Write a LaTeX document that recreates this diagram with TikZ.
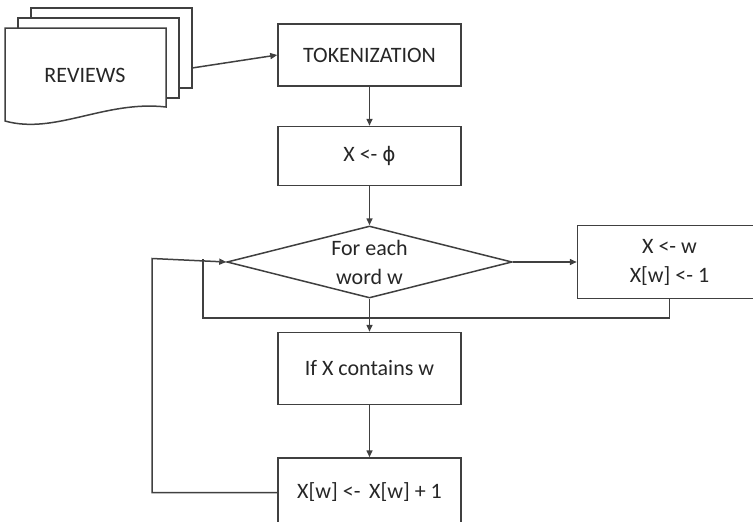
\documentclass[tikz,border=0pt]{standalone}
\usepackage{fontspec}
\setmainfont{Carlito}
\newfontfamily\phifont{DejaVu Sans}
\usepackage{tikz}
\usetikzlibrary{positioning, arrows.meta, shapes.geometric}

\begin{document}
\begin{tikzpicture}[
    x=1pt, y=-1pt,
    font=\fontsize{22}{29}\selectfont,
    line width=1.5pt,
    node distance=39pt,
    every node/.style={text=black!85},
    process/.style={
        rectangle, draw=black!75,
        minimum width=183pt, minimum height=61pt,
        align=center, inner sep=0pt
    },
    decision/.style={
        diamond, draw=black!75, aspect=3.96,
        minimum width=285pt, minimum height=72pt,
        align=center, inner sep=0pt
    },
    sheet/.style={draw=black!75, fill=white},
    arrow/.style={draw=black!75, -{Triangle[length=7pt, width=6pt]}},
    link/.style={draw=black!75},
]
\clip (0,0) rectangle (753,522);

% ---------- Reviews (stack of documents) ----------
\draw[sheet] (31,8) rectangle (192,88);
\draw[sheet] (18,18) rectangle (179,98);
\draw[sheet] (5,28) -- (166,28) -- (166,107)
    .. controls (105,100) and (55,135) .. (5,121) -- cycle;
\node (reviews) at (85,75) {REVIEWS};
\coordinate (docout) at (192,68);

% ---------- Tokenization ----------
\node[process, minimum height=62pt] (tok) at (369.5,55) {TOKENIZATION};

% ---------- Init ----------
\node[process, minimum height=59pt, below=of tok] (init) {X <- {\phifont\fontsize{20}{29}\selectfont ϕ}};

% ---------- Loop ----------
\node[decision, below=of init] (loop) {For each\\word w};

\node[process, minimum width=184pt, minimum height=73pt, right=64pt of loop] (setbox)
    {X <- w\\X[w] <- 1};

% ---------- Test ----------
\node[process, minimum height=72pt, below=33pt of loop] (ifbox) {If X contains w};

\node[process, minimum height=69pt, below=52pt of ifbox] (incr) {X[w] <-\, X[w] + 1};

% helper points for the loop lines
\coordinate (loopin) at (152,258.5);
\coordinate (merge) at (203,258.5);
\coordinate (bend) at (203,318);

% ---------- Arrows ----------
\draw[arrow] (docout) -- (tok.west);
\draw[arrow] (tok) -- (init);
\draw[arrow] (init) -- (loop);
\draw[arrow] (loop) -- (setbox);
\draw[arrow] (loop) -- (ifbox);
\draw[arrow] (ifbox) -- (incr);

\draw[link] (setbox.south) |- (bend) -- (merge);
\draw[arrow] (incr.west) -| (loopin) -- (loop.west);

\end{tikzpicture}
\end{document}
